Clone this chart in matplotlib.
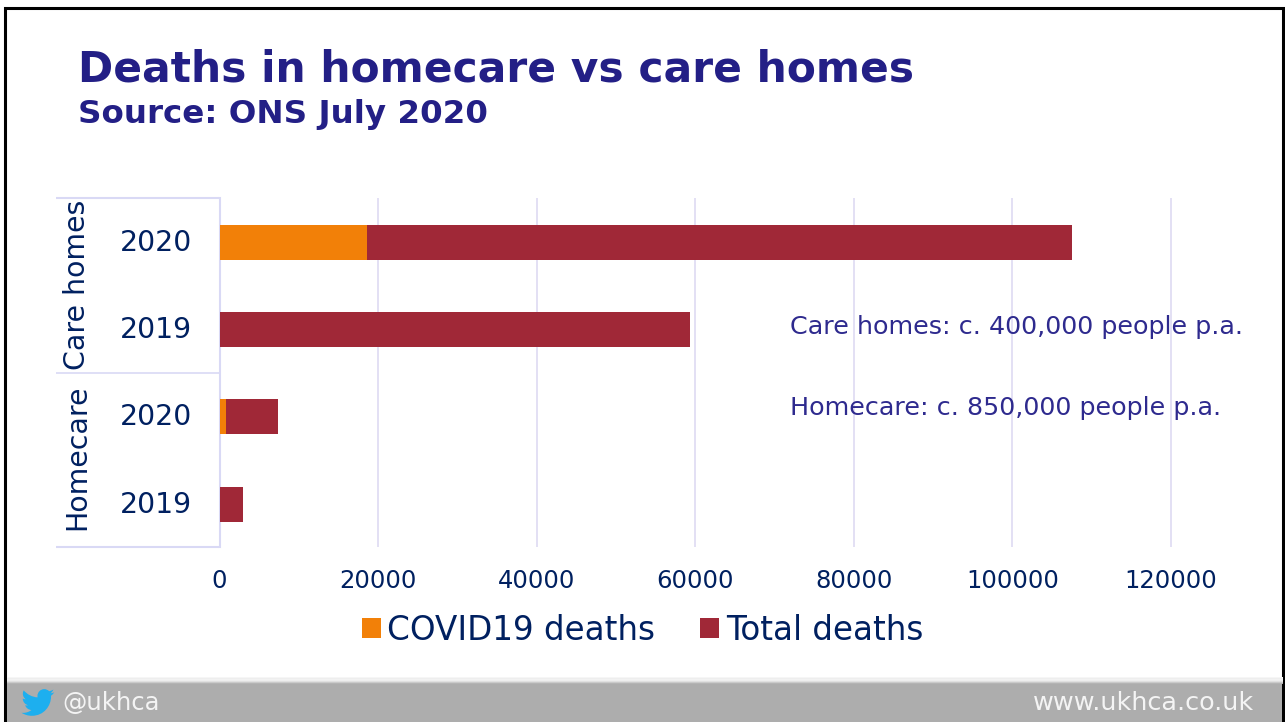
"""Deaths in homecare vs care homes, stacked on a shared horizontal axis."""
import matplotlib
matplotlib.use("Agg")
import matplotlib.pyplot as plt
import numpy as np
from matplotlib.colors import LinearSegmentedColormap
from matplotlib.patches import PathPatch, Rectangle
from matplotlib.path import Path
from matplotlib.transforms import ScaledTranslation

W, H = 1285, 722

groups = ["Care homes", "Homecare"]
years = ["2020", "2019", "2020", "2019"]
covid_deaths = [18600, 0, 800, 0]
total_deaths = [107500, 59300, 7380, 2960]
x_ticks = [0, 20000, 40000, 60000, 80000, 100000, 120000]
notes = ["Care homes: c. 400,000 people p.a.", "Homecare: c. 850,000 people p.a."]

NAVY = "#002060"
TITLE = "#231F86"
NOTE = "#2E2A8E"
ORANGE = "#F28008"
RED = "#A02837"
GRID = "#E1DDF3"
AXIS = "#D9D9F5"
FOOTER = "#ADADAD"

plt.rcParams["font.family"] = "DejaVu Sans"


def bird_path(x0, y0, scale):
    """Twitter bird outline, drawn in a 24-unit box and scaled to pixels."""
    M, L, Q, C = Path.MOVETO, Path.LINETO, Path.CURVE3, Path.CURVE4
    segs = [
        (M, [(23.95, 4.57)]),
        (Q, [(22.6, 5.2), (21.13, 5.35)]),
        (Q, [(22.6, 4.4), (23.29, 2.62)]),
        (Q, [(21.9, 3.45), (20.16, 3.81)]),
        (C, [(19.2, 2.8), (17.9, 2.28), (16.57, 2.28)]),
        (C, [(13.9, 2.28), (11.65, 4.5), (11.65, 7.2)]),
        (Q, [(11.65, 7.75), (11.78, 8.29)]),
        (C, [(7.69, 8.095), (4.067, 6.13), (1.64, 3.16)]),
        (Q, [(0.97, 4.3), (0.97, 5.64)]),
        (C, [(0.97, 7.35), (1.84, 8.85), (3.16, 9.73)]),
        (Q, [(1.95, 9.7), (0.93, 9.12)]),
        (L, [(0.93, 9.18)]),
        (C, [(0.93, 11.5), (2.6, 13.6), (4.88, 14.0)]),
        (Q, [(3.8, 14.35), (2.67, 14.09)]),
        (C, [(3.3, 16.0), (5.1, 17.45), (7.27, 17.51)]),
        (C, [(5.6, 18.85), (3.5, 19.61), (1.17, 19.61)]),
        (Q, [(0.58, 19.61), (0, 19.54)]),
        (C, [(2.2, 20.95), (4.8, 21.75), (7.56, 21.75)]),
        (C, [(16.6, 21.75), (21.56, 14.26), (21.56, 7.77)]),
        (Q, [(21.56, 7.55), (21.54, 7.14)]),
        (Q, [(23, 6.1), (23.95, 4.57)]),
    ]
    verts, codes = [], []
    for code, pts in segs:
        for x, y in pts:
            verts.append((x0 + x * scale, y0 + y * scale))
            codes.append(code)
    return Path(verts, codes)


fig = plt.figure(figsize=(W / 100, H / 100), dpi=100, facecolor="white")

# page furniture lives on a full-figure axes measured in pixels
page = fig.add_axes([0, 0, 1, 1], zorder=0)
page.add_patch(Rectangle((5, 8), W - 7, H, fc="white", ec="black", lw=2.2, zorder=1))
fade = LinearSegmentedColormap.from_list("fade", [FOOTER, "#F6F6F6"])
shade = np.array([1, 0.9, 0.95, 0.9, 0.7, 0.4, 0.1])
page.imshow(shade[:, None], extent=(6.5, W - 3, 684, 677), aspect="auto",
            cmap=fade, vmin=0, vmax=1, zorder=2)
page.add_patch(Rectangle((6.5, 684), W - 9.5, 38, fc=FOOTER, ec="none", zorder=2))
page.set_xlim(0, W)
page.set_ylim(H, 0)
page.axis("off")

page.text(78, 69, "Deaths in homecare vs care homes", color=TITLE, fontsize=30.5,
          fontweight="bold", va="center", ha="left")
page.text(78, 114, "Source: ONS July 2020", color=TITLE, fontsize=23.4,
          fontweight="bold", va="center", ha="left")
page.text(62, 703, "@ukhca", color="#F4F4F4", fontsize=17.5, va="center", ha="left")
page.text(1254, 703, "www.ukhca.co.uk", color="#F4F4F4", fontsize=18.35, va="center", ha="right")
page.add_patch(PathPatch(bird_path(21.5, 686, 1.37), fc="#1DAFEF", ec="none", zorder=3))

# plot area: x=0 at 219.5 px, x=120000 at 1171 px, rows 198-547 px
ax = fig.add_axes([219.5 / W, 1 - 547 / H, (1171 - 219.5) / W, (547 - 198) / H], zorder=1)
ax.patch.set_alpha(0)
ypos = np.arange(len(years))
ax.set_xlim(0, 120000)
ax.set_ylim(3.492, -0.508)

ax.barh(ypos, total_deaths, height=0.4, color=RED, label="Total deaths", zorder=3)
ax.barh(ypos, covid_deaths, height=0.4, color=ORANGE, label="COVID19 deaths", zorder=4)

ax.set_axisbelow(True)
ax.grid(axis="x", color=GRID, lw=1.3, clip_on=False, solid_capstyle="butt")
ax.set_xticks(x_ticks)
ax.set_yticks(ypos)
ax.set_yticklabels(years)
ax.tick_params(axis="x", length=0, labelsize=17.5, labelcolor=NAVY, pad=15.5)
ax.tick_params(axis="y", length=0, labelsize=20.4, labelcolor=NAVY, pad=19.5)

# nudge the year labels up so their digits sit level with the bars
nudge = ScaledTranslation(0, 2.5 / 100, fig.dpi_scale_trans)
for lab in ax.get_yticklabels():
    lab.set_transform(lab.get_transform() + nudge)

for side in ["top", "right", "bottom"]:
    ax.spines[side].set_visible(False)
ax.spines["left"].set_color(AXIS)
ax.spines["left"].set_linewidth(1.5)
ax.spines["left"].set_zorder(2)

# multi-level category brackets to the left of the axis
for y_px, lw in [(198, 1.5), (372.5, 1.2), (547, 1.5)]:
    page.plot([56, 219], [y_px, y_px], color=AXIS, lw=lw, solid_capstyle="butt", zorder=3)
page.text(77, 285, groups[0], rotation=90, color=NAVY, fontsize=20.4, va="center", ha="center")
page.text(77, 457, groups[1], rotation=90, color=NAVY, fontsize=20.4, va="center", ha="center")

fig.text(790 / W, 1 - 327 / H, notes[0], color=NOTE, fontsize=18.25, va="center", ha="left", zorder=5)
fig.text(790 / W, 1 - 408 / H, notes[1], color=NOTE, fontsize=18.25, va="center", ha="left", zorder=5)

handles, labels = ax.get_legend_handles_labels()
fig.legend(handles[::-1], labels[::-1], ncol=2, frameon=False, fontsize=23.5,
           labelcolor=NAVY, loc="center", bbox_to_anchor=(642.5 / W, 1 - 630 / H),
           handlelength=0.58, handleheight=0.58, handletextpad=0.2, columnspacing=1.39,
           borderpad=0)

fig.savefig("out.png", dpi=100)
plt.close(fig)
